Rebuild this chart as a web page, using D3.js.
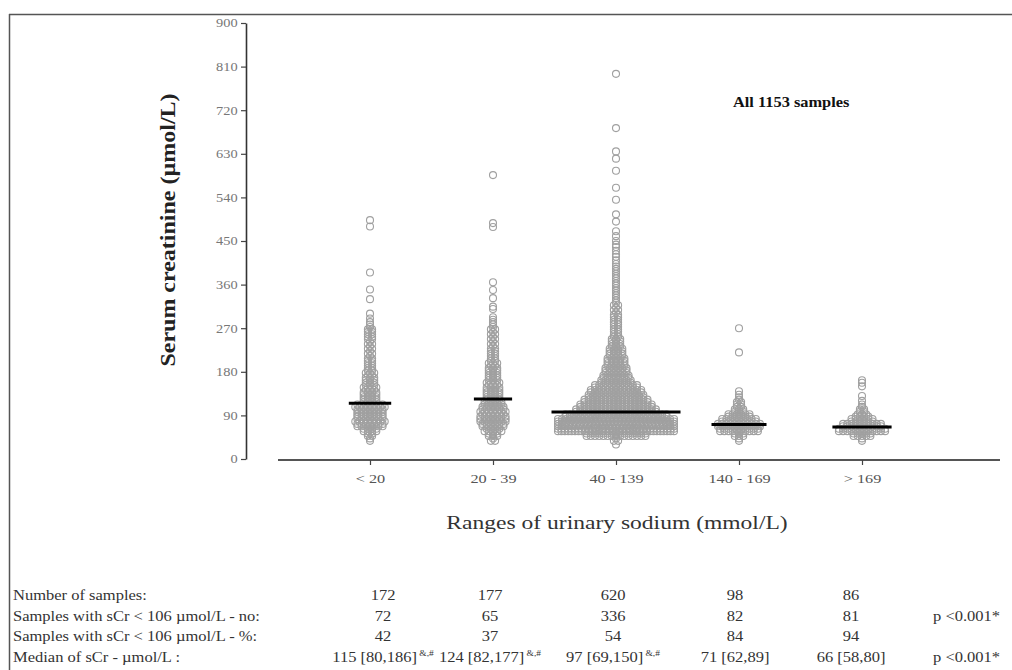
<!DOCTYPE html>
<html><head><meta charset="utf-8">
<script src="https://cdn.jsdelivr.net/npm/d3@7"></script>
<style>body{margin:0;background:#fff}svg{display:block}</style>
</head><body><svg id="c" width="1012" height="670"></svg>
<script>
// ---------- data ----------
const categories = ["< 20", "20 - 39", "40 - 139", "140 - 169", "> 169"];
const sampleCounts = [172, 177, 620, 98, 86];
const belowCutNo = [72, 65, 336, 82, 81];
const belowCutPct = [42, 37, 54, 84, 94];
const medians = [115, 124, 97, 71, 66];
const medianText = ["115 [80,186]", "124 [82,177]", "97 [69,150]", "71 [62,89]", "66 [58,80]"];
const medianSup = ["&,#", "&,#", "&,#", "", ""];
const pValues = ["", "p <0.001*", "", "p <0.001*"];
const rowLabels = ["Number of samples:", "Samples with sCr < 106 \u00B5mol/L - no:", "Samples with sCr < 106 \u00B5mol/L  - %:", "Median  of  sCr - \u00B5mol/L :"];
const yTicks = [0, 90, 180, 270, 360, 450, 540, 630, 720, 810, 900];
const bins1 = [[40,2],[50,4],[60,8],[70,14],[80,15],[90,14],[100,14],[110,15],[120,8],[130,8],[140,7],[150,7],[160,6],[170,5],[180,5],[190,4],[200,4],[210,3],[220,3],[230,3],[240,3],[250,4],[260,4],[270,3],[280,2],[290,1],[300,1],[330,1],[350,1],[385,1],[480,1],[493,1]];
const bins2 = [[40,3],[50,6],[60,9],[70,12],[80,14],[90,13],[100,13],[110,11],[120,9],[130,8],[140,8],[150,7],[160,7],[170,6],[180,6],[190,5],[200,5],[210,4],[220,4],[230,3],[240,3],[250,3],[260,3],[270,3],[280,2],[290,2],[312,2],[332,1],[349,1],[365,1],[479,1],[487,1],[586,1]];
const bins3 = [[30,1],[40,3],[50,30],[60,70],[70,65],[80,60],[90,50],[100,40],[110,36],[120,32],[130,28],[140,26],[150,22],[160,16],[170,14],[180,12],[190,11],[200,10],[210,9],[220,8],[230,7],[240,6],[250,5],[260,4],[270,4],[280,4],[290,4],[300,3],[310,3],[320,3],[330,2],[340,2],[350,2],[360,2],[370,2],[380,2],[390,2],[400,2],[410,1],[420,2],[430,1],[440,2],[450,1],[460,1],[470,1],[490,1],[505,1],[535,1],[560,1],[595,1],[620,1],[635,1],[683,1],[795,1]];
const bins4 = [[40,2],[50,6],[60,20],[70,22],[80,18],[90,12],[100,6],[110,4],[120,3],[130,2],[140,1],[220,1],[270,1]];
const bins5 = [[40,2],[50,10],[60,24],[70,20],[80,12],[90,7],[100,4],[110,2],[120,1],[130,1],[150,1],[160,2]];
const groups = [bins1, bins2, bins3, bins4, bins5];

// ---------- layout ----------
const svg = d3.select("#c");
const FONT = "'Liberation Serif','Times New Roman',serif";
const y = d3.scaleLinear().domain([0, 900]).range([459, 23]);
const x = d3.scalePoint().domain(categories).range([370, 862]);
const R = 3.5, DX = 4.2, MAXW = 116, SUB = 2.5;

// frame
svg.append("line").attr("x1", 9).attr("x2", 1012).attr("y1", 14.5).attr("y2", 14.5).attr("stroke", "#555").attr("stroke-width", 1.5);
svg.append("line").attr("x1", 9.5).attr("x2", 9.5).attr("y1", 14).attr("y2", 670).attr("stroke", "#555").attr("stroke-width", 1.5);

function label(str, px, py, o) {
  o = o || {};
  const t = svg.append("text")
    .attr("transform", `translate(${px},${py}) rotate(${o.rot || 0}) scale(${o.sx || 1},1)`)
    .attr("text-anchor", o.anchor || "start")
    .attr("font-family", FONT).attr("font-size", o.size || 14)
    .attr("font-weight", o.weight || "normal")
    .attr("fill", o.fill || "#333");
  t.append("tspan").text(str);
  if (o.sup) t.append("tspan").attr("font-size", 8).attr("dy", -6).text(" " + o.sup);
  return t;
}

// y axis
const yAxis = svg.append("g").attr("transform", "translate(246,0)")
  .call(d3.axisLeft(y).tickValues(yTicks).tickSize(5).tickSizeOuter(0).tickPadding(2));
yAxis.select(".domain").attr("stroke", "#333").attr("stroke-width", 1.6);
yAxis.selectAll(".tick line").attr("stroke", "#444").attr("stroke-width", 1.2);
yAxis.selectAll(".tick text").attr("font-family", FONT).attr("font-size", 12).attr("fill", "#777")
  .attr("transform", "scale(1.2,1)");

// x axis
svg.append("line").attr("x1", 278).attr("x2", 1000).attr("y1", 460).attr("y2", 460).attr("stroke", "#555").attr("stroke-width", 2);
const xAxis = svg.append("g").attr("transform", "translate(0,460)")
  .call(d3.axisBottom(x).tickSize(5).tickPadding(9));
xAxis.select(".domain").remove();
xAxis.selectAll(".tick line").attr("stroke", "#444").attr("stroke-width", 1.2);
xAxis.selectAll(".tick text").attr("font-family", FONT).attr("font-size", 13).attr("fill", "#555")
  .attr("transform", "scale(1.25,1)");

// swarm points
groups.forEach((bins, gi) => {
  const cx = x(categories[gi]);
  const pts = [];
  let maxHalf = 0;
  bins.forEach(([v, c]) => {
    const rows = c === 1 ? [[v, 1]] : [[v - SUB, Math.ceil(c / 2)], [v + SUB, Math.floor(c / 2)]];
    rows.forEach(([rv, k]) => {
      const dx = k > 1 ? Math.min(DX, MAXW / (k - 1)) : 0;
      for (let j = 0; j < k; j++) {
        const off = (j - (k - 1) / 2) * dx;
        pts.push([cx + off, y(rv)]);
        maxHalf = Math.max(maxHalf, Math.abs(off) + R);
      }
    });
  });
  svg.append("g").selectAll("circle").data(pts).join("circle")
    .attr("cx", d => d[0]).attr("cy", d => d[1]).attr("r", R)
    .attr("fill", "none").attr("stroke", "#a0a0a0").attr("stroke-width", 1.1);
  const half = maxHalf + 3;
  svg.append("line").attr("x1", cx - half).attr("x2", cx + half)
    .attr("y1", y(medians[gi])).attr("y2", y(medians[gi]))
    .attr("stroke", "#000").attr("stroke-width", 3);
});

// titles
label("Serum creatinine (\u00B5mol/L)", 175, 230, {rot: -90, anchor: "middle", size: 20, weight: "bold", sx: 1.2, fill: "#222"});
label("Ranges of urinary sodium (mmol/L)", 617, 529, {anchor: "middle", size: 19, sx: 1.24, fill: "#333"});
label("All 1153 samples", 733, 107, {size: 14, weight: "bold", sx: 1.17, fill: "#111"});

// table
const colX = [383, 490, 613, 735, 851];
const rowY = [600, 621, 641, 662];
const TS = 14, TSX = 1.18;
rowLabels.forEach((s, i) => label(s, 13, rowY[i], {size: TS, sx: TSX}));
const rows = [sampleCounts, belowCutNo, belowCutPct];
rows.forEach((arr, ri) => arr.forEach((v, ci) => label(String(v), colX[ci], rowY[ri], {anchor: "middle", size: TS, sx: TSX})));
medianText.forEach((s, ci) => label(s, colX[ci], rowY[3], {anchor: "middle", size: TS, sx: TSX, sup: medianSup[ci]}));
pValues.forEach((s, i) => { if (s) label(s, 933, rowY[i], {size: TS, sx: TSX}); });
</script></body></html>
